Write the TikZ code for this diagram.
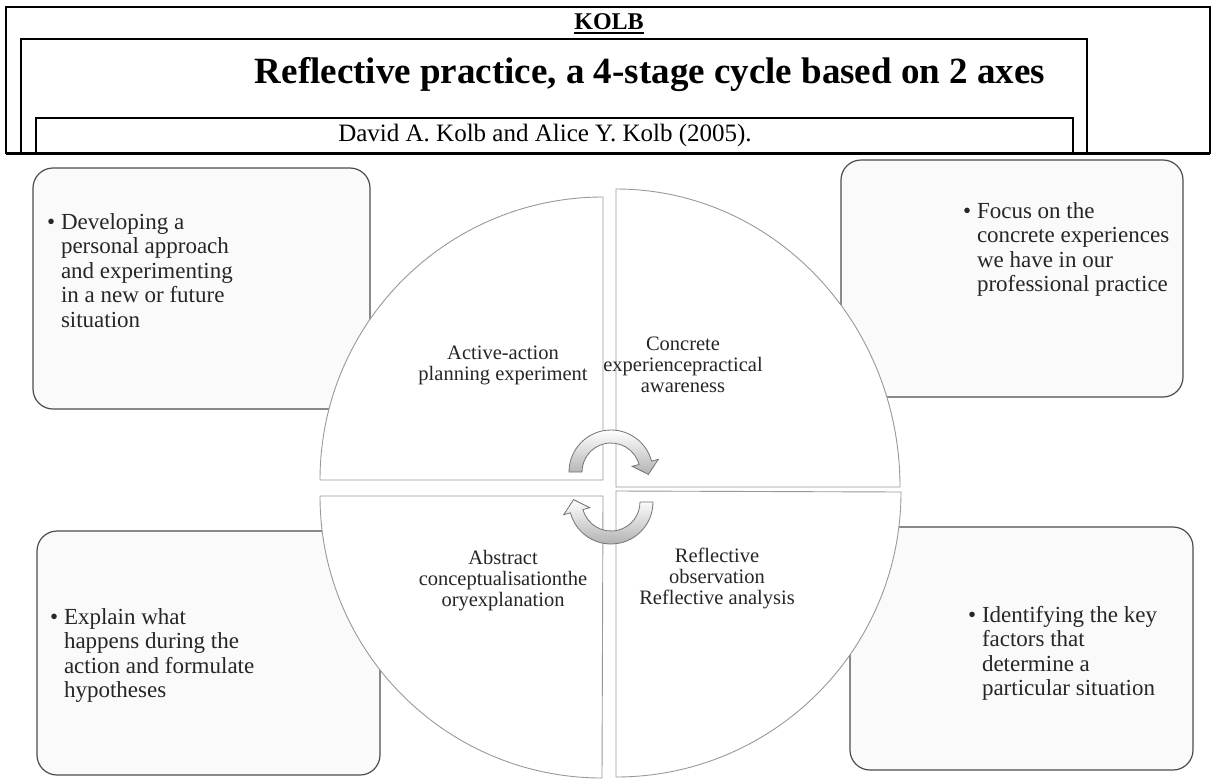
\documentclass[tikz,border=0pt]{standalone}
\usepackage{fontspec}
\setmainfont{Liberation Serif}

\tikzset{
  frame/.style={draw, line width=1.6pt},
  notebox/.style={draw=black!70, line width=1.2pt, rounded corners=20pt, fill=black!2},
  quarter/.style={draw=black!40, line width=0.9pt, fill=white},
  stagetext/.style={align=center, font=\fontsize{20.5}{21}\selectfont, text=black!85},
  notetext/.style={anchor=base west, inner sep=0pt, text=black!85, font=\fontsize{23}{24.5}\selectfont},
  arrowblock/.style={draw=black!55, line width=0.8pt, top color=white, bottom color=black!30},
}

% block arrow of the cycle: #1 centre, #2 rotation
\newcommand{\cyclearrow}[2]{%
  \draw[arrowblock, shift={#1}, rotate=#2] (180:29) -- (180:42)
    arc[start angle=180, end angle=345, radius=42] -- (345:49) -- (37.4,2.4)
    -- (345:22) -- (345:29) arc[start angle=345, end angle=180, radius=29] -- cycle;}

\begin{document}
\begin{tikzpicture}[x=1pt, y=-1pt]
  \useasboundingbox (0,0) rectangle (1218,779);

  % heading
  \draw[frame] (6,7) rectangle (1210,153);
  \draw[frame] (21,39) rectangle (1087,153);
  \draw[frame] (36,118) rectangle (1073,153);
  \draw[line width=3pt] (6,153) -- (1210,153);
  \node[inner sep=0pt, font=\fontsize{24}{26}\bfseries\selectfont] (kolb) at (609,22) {KOLB};
  \draw[line width=2.5pt] ([yshift=-3pt]kolb.base west) -- ([yshift=-3pt]kolb.base east);
  \node[font=\fontsize{37}{40}\bfseries\selectfont] (title) at (650,75)
    {Reflective practice, a 4-stage cycle based on 2 axes};
  \node[font=\fontsize{25}{28}\selectfont] (source) at (545,135)
    {David A. Kolb and Alice Y. Kolb (2005).};

  % notes
  \draw[notebox] (33,168) rectangle (370,409);
  \draw[notebox] (841,160) rectangle (1183,397);
  \draw[notebox] (37,531) rectangle (380,775);
  \draw[notebox] (850,527) rectangle (1193,770);

  % the four stages
  \draw[quarter] (603,480) -- (320,480) arc[start angle=180, end angle=270, radius=283] -- cycle;
  \draw[quarter] (616,487) -- (616,189) arc[start angle=270, end angle=360, x radius=284, y radius=298] -- cycle;
  \draw[quarter] (603,496) -- (320,496) arc[start angle=180, end angle=90, radius=282] -- cycle;
  \draw[quarter] (616,491) -- (616,777) arc[start angle=90, end angle=0, radius=285] -- cycle;

  \cyclearrow{(611,472)}{0}
  \cyclearrow{(611,502)}{180}

  \node[stagetext] (active) at (503,365) {Active-action\\planning experiment};
  \node[stagetext] (concrete) at (683,365) {Concrete\\experiencepractical\\awareness};
  \node[stagetext] (abstract) at (503,581) {Abstract\\conceptualisationthe\\oryexplanation};
  \node[stagetext] (reflect) at (717,578) {Reflective\\observation\\Reflective analysis};

  \node[notetext] (tlnote) at (47,229) {\textbullet\ \parbox[t]{260pt}{Developing a\\personal approach\\and experimenting\\in a new or future\\situation}};
  \node[notetext] (trnote) at (963,218) {\textbullet\ \parbox[t]{220pt}{Focus on the\\concrete experiences\\we have in our\\professional practice}};
  \node[notetext] (blnote) at (50,624) {\textbullet\ \parbox[t]{260pt}{Explain what\\happens during the\\action and formulate\\hypotheses}};
  \node[notetext] (brnote) at (968,622) {\textbullet\ \parbox[t]{220pt}{Identifying the key\\factors that\\determine a\\particular situation}};
\end{tikzpicture}
\end{document}
